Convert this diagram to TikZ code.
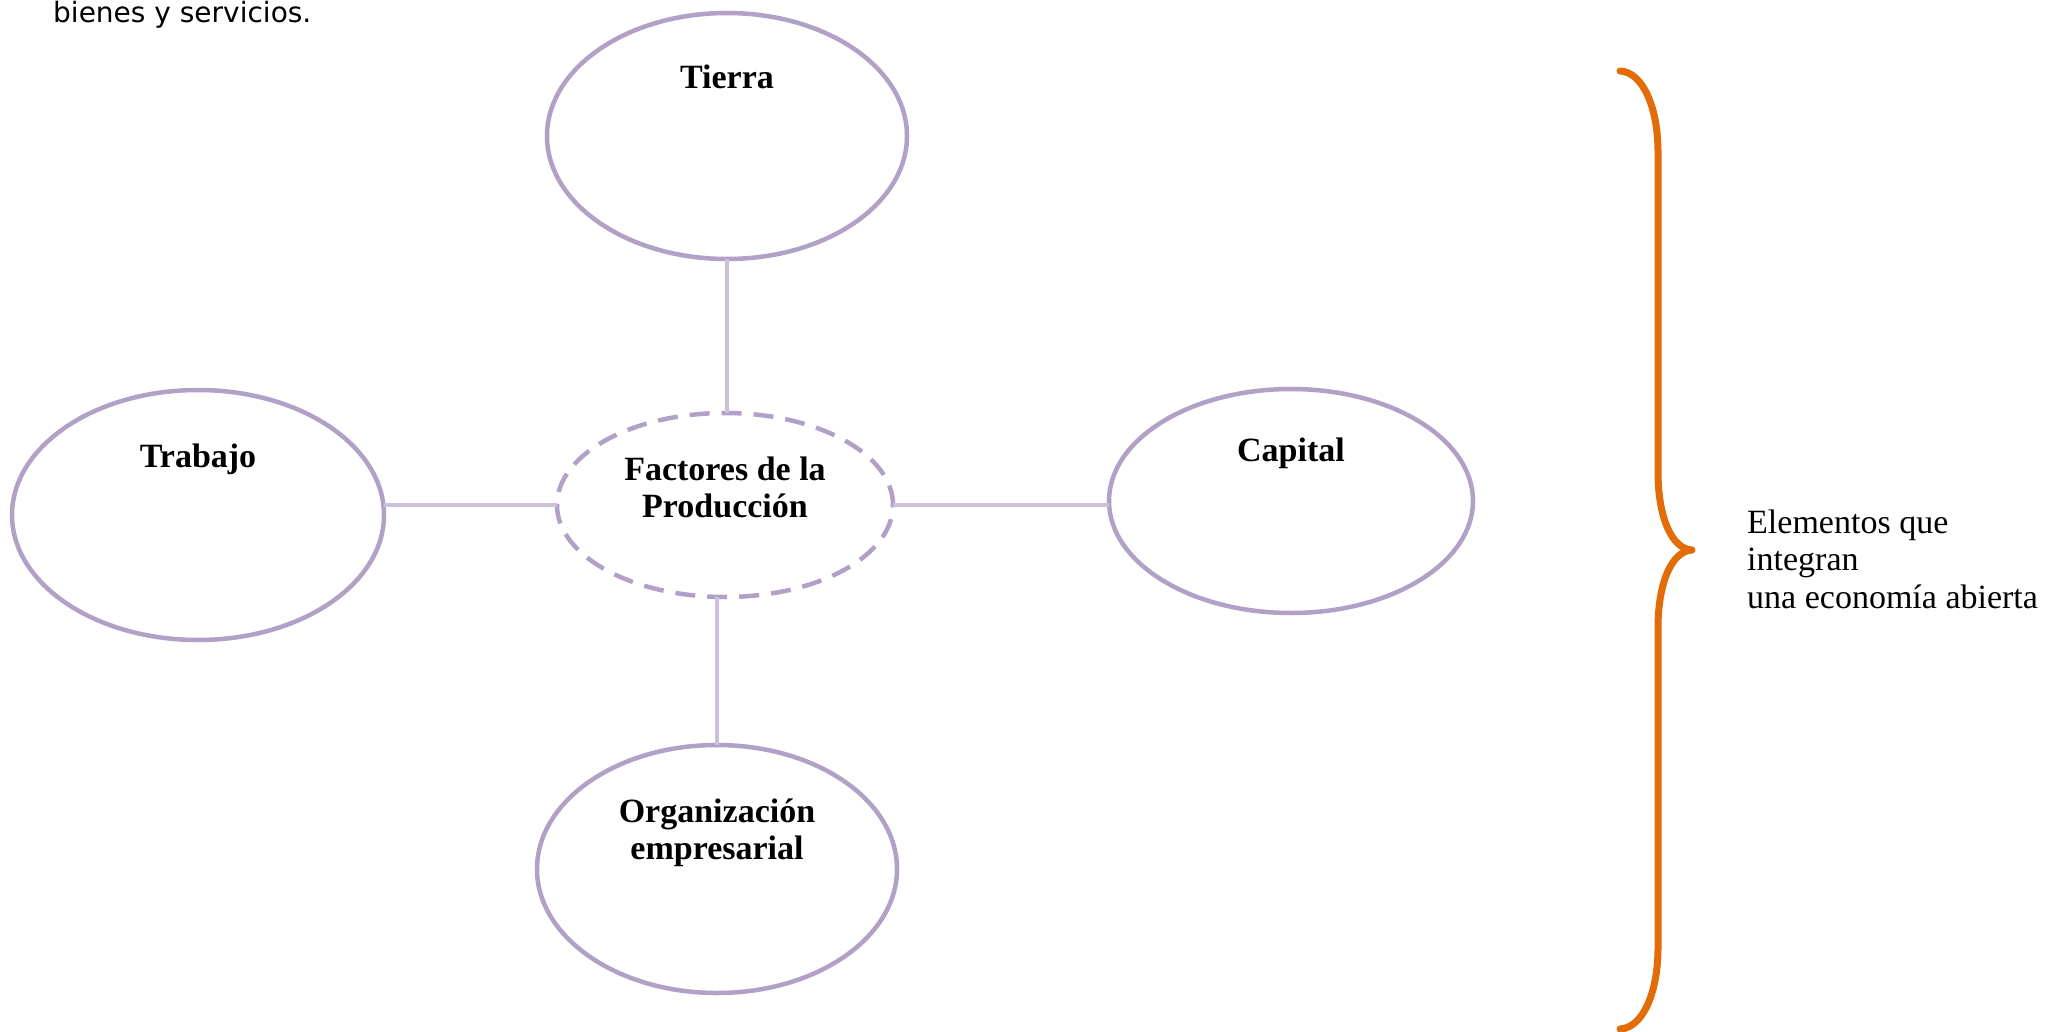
\documentclass[tikz,border=0pt]{standalone}
\usepackage{fontspec}
\setmainfont{Liberation Serif}
\newfontfamily\textosans{DejaVu Sans}
\usepackage{xcolor}
\usetikzlibrary{shapes.geometric}
\definecolor{lila}{HTML}{B2A1C7}
\definecolor{lilaclaro}{HTML}{CCC0DA}
\definecolor{naranja}{HTML}{E36C09}

\begin{document}
\begin{tikzpicture}[x=1pt,y=-1pt,
                    factor node/.style={ellipse,draw=lila,line width=4.5pt,inner sep=0pt,outer sep=0pt},
                    titulo/.style={font=\fontsize{34}{37}\selectfont\bfseries,align=center,anchor=base,inner sep=0pt},
                    enlace/.style={draw=lilaclaro,line width=4.5pt}]

  \useasboundingbox[fill=white] (0,0) rectangle (2047,1032);

  % ellipses
  \node[factor node,minimum width=360pt,minimum height=246pt] (tierra) at (727,136) {};
  \node[factor node,minimum width=372pt,minimum height=250pt] (trabajo) at (198,515) {};
  \node[factor node,minimum width=364pt,minimum height=224pt] (capital) at (1291,501) {};
  \node[factor node,minimum width=360pt,minimum height=248pt] (organizacion) at (717,869) {};
  \node[factor node,dash pattern=on 20pt off 12pt,minimum width=336pt,minimum height=184pt] (factores) at (725,505) {};

  % texts (base = last line)
  \node[titulo] (t tierra) at (727,89) {Tierra};
  \node[titulo] (t trabajo) at (198,467) {Trabajo};
  \node[titulo] (t capital) at (1291,461) {Capital};
  \node[titulo] (t organizacion) at (717,859) {Organización\\empresarial};
  \node[titulo] (t factores) at (725,517) {Factores de la\\Producción};

  \path[enlace]
    (tierra.south) edge (tierra.south |- factores.north)
    (factores.west) edge (factores.west -| trabajo.east)
    (factores.east) edge (factores.east -| capital.west)
    (organizacion.north |- factores.south) edge (organizacion.north)
    ;

  % brace
  \draw[naranja,line width=7pt,line cap=round,line join=round]
    (1620,71) .. controls (1643,72) and (1658,108) .. (1658,152) -- (1658,472)
    .. controls (1658,518) and (1672,549) .. (1692,550)
    .. controls (1672,551) and (1658,582) .. (1658,628) -- (1658,948)
    .. controls (1658,992) and (1643,1028) .. (1620,1029);

  \node[anchor=base west,align=left,inner sep=0pt,font=\fontsize{34}{37.5}\selectfont] (elementos) at (1747,608)
    {Elementos que\\integran\\una economía abierta};

  \node[anchor=base west,inner sep=0pt,font=\textosans\fontsize{28}{33}\selectfont] (bienes) at (53,23)
    {bienes y servicios.};
\end{tikzpicture}
\end{document}
